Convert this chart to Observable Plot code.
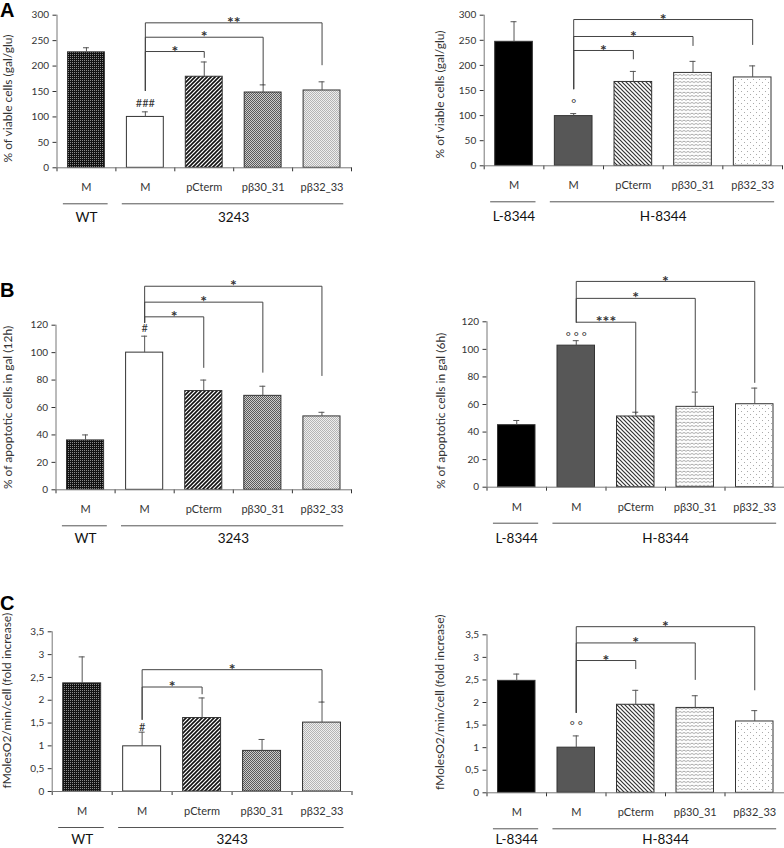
<!DOCTYPE html>
<html><head><meta charset="utf-8">
<script src="https://cdn.jsdelivr.net/npm/d3@7"></script>
<script src="https://cdn.jsdelivr.net/npm/@observablehq/plot@0.6"></script>
<style>
body{margin:0;background:#fff;}
#fig{position:relative;width:784px;height:848px;overflow:hidden;font-family:Lato,sans-serif;}
.panel{position:absolute;}
.letter{position:absolute;left:0;font-family:"Liberation Sans",Arial,sans-serif;font-weight:bold;font-size:20px;line-height:1;color:#000;}
</style></head><body>
<svg width="0" height="0" style="position:absolute">
<defs>
 <pattern id="pat-dark" width="2" height="2" patternUnits="userSpaceOnUse">
   <rect width="2" height="2" fill="#111"/><rect x="0" y="0" width="1" height="1" fill="#8a8a8a"/>
 </pattern>
 <pattern id="pat-slash" width="4" height="4" patternUnits="userSpaceOnUse">
   <rect width="4" height="4" fill="#fff"/>
   <path d="M-1,5 L5,-1 M-1,1 L1,-1 M3,5 L5,3" stroke="#111" stroke-width="1.6"/>
 </pattern>
 <pattern id="pat-mid" width="2" height="2" patternUnits="userSpaceOnUse">
   <rect width="2" height="2" fill="#cccccc"/><rect width="1" height="1" fill="#5a5a5a"/><rect x="1" y="1" width="1" height="1" fill="#5a5a5a"/>
 </pattern>
 <pattern id="pat-light" width="2" height="2" patternUnits="userSpaceOnUse">
   <rect width="2" height="2" fill="#eeeeee"/><rect width="1" height="1" fill="#b4b4b4"/><rect x="1" y="1" width="1" height="1" fill="#b4b4b4"/>
 </pattern>
 <pattern id="pat-back" width="4" height="4" patternUnits="userSpaceOnUse">
   <rect width="4" height="4" fill="#fff"/>
   <path d="M-1,-1 L5,5 M3,-1 L5,1 M-1,3 L1,5" stroke="#333" stroke-width="1.2"/>
 </pattern>
 <pattern id="pat-wave" width="4" height="3.5" patternUnits="userSpaceOnUse">
   <rect width="4" height="3.5" fill="#fff"/>
   <path d="M0,1 L2,2.2 L4,1" stroke="#8a8a8a" stroke-width="0.8" fill="none"/>
 </pattern>
 <pattern id="pat-dots" width="6" height="6" patternUnits="userSpaceOnUse">
   <rect width="6" height="6" fill="#fff"/><rect x="1" y="1" width="1" height="1" fill="#aaa"/><rect x="4" y="4" width="1" height="1" fill="#aaa"/>
 </pattern>
</defs></svg>
<div id="fig">
  <div class="letter" style="top:0px">A</div>
  <div class="letter" style="top:280px">B</div>
  <div class="letter" style="top:593px">C</div>
</div>
<script>
// ---- categories & groups ----
const categories = ["M", "M", "pCterm", "pβ30_31", "pβ32_33"];
const groupsLeft = [{label: "WT", from: 0, to: 0}, {label: "3243", from: 1, to: 4}];
const groupsRight = [{label: "L-8344", from: 0, to: 0}, {label: "H-8344", from: 1, to: 4}];

// ---- series values (mean, error) ----
const viabilityLeft = [227, 100, 179, 148, 152];
const viabilityLeftErr = [9, 10, 29, 15, 17];
const viabilityRight = [247, 99, 167, 185, 176];
const viabilityRightErr = [40, 5, 21, 23, 23];
const apoptosisLeft = [36, 100, 72, 68.5, 53.5];
const apoptosisLeftErr = [4, 12, 8, 7, 3];
const apoptosisRight = [45, 102.7, 51.3, 58.3, 60.2];
const apoptosisRightErr = [3.4, 3.6, 3.1, 10.7, 11.7];
const oxygenLeft = [2.37, 0.99, 1.61, 0.89, 1.51];
const oxygenLeftErr = [0.58, 0.31, 0.44, 0.25, 0.45];
const oxygenRight = [2.48, 1.0, 1.95, 1.88, 1.58];
const oxygenRightErr = [0.15, 0.26, 0.32, 0.27, 0.24];

// ---- tick labels ----
const yTicksViability = [0, 50, 100, 150, 200, 250, 300];
const yTicksApoptosis = [0, 20, 40, 60, 80, 100, 120];
const yTicksOxygen = [0, 0.5, 1, 1.5, 2, 2.5, 3, 3.5];

// ---- significance brackets (from M, index 1) ----
const bracketsAL = [{to: 2, level: 228.6, end: 217, label: "*"}, {to: 3, level: 256.7, end: 163, label: "*"}, {to: 4, level: 285, end: 202.5, label: "**"}];
const bracketsAR = [{to: 2, level: 229.7, end: 213, label: "*"}, {to: 3, level: 257.6, end: 239.6, label: "*"}, {to: 4, level: 291.4, end: 241.6, label: "*"}];
const bracketsBL = [{to: 2, level: 126.1, end: 89.2, label: "*"}, {to: 3, level: 136.8, end: 85.7, label: "*"}, {to: 4, level: 148.4, end: 83.3, label: "*"}];
const bracketsBR = [{to: 2, level: 119.7, end: 53.5, label: "***"}, {to: 3, level: 137, end: 70.2, label: "*"}, {to: 4, level: 149.3, end: 76, label: "*"}];
const bracketsCL = [{to: 2, level: 2.29, end: 2.14, label: "*"}, {to: 4, level: 2.67, end: 1.96, label: "*"}];
const bracketsCR = [{to: 2, level: 2.93, end: 2.75, label: "*"}, {to: 3, level: 3.32, end: 2.51, label: "*"}, {to: 4, level: 3.68, end: 2.28, label: "*"}];

// ---- styles ----
const fillsLeft = ["url(#pat-dark)", "#ffffff", "url(#pat-slash)", "url(#pat-mid)", "url(#pat-light)"];
const fillsRight = ["#000000", "#575757", "url(#pat-back)", "url(#pat-wave)", "url(#pat-dots)"];
const comma = d => String(d).replace(".", ",");

const panels = [
  {left: 0, top: 0, height: 260, mL: 56.5, mR: 41, mT: 14.7, mB: 92.7, values: viabilityLeft, errs: viabilityLeftErr, fills: fillsLeft, groups: groupsLeft,
   yTicks: yTicksViability, yMax: 300, yLabel: "% of viable cells (gal/glu)", titleDx: -49, titleDy: 7, brackets: bracketsAL, base: 152, sig: "###", sigDy: -8, sigSize: 11, groupDy: 50},
  {left: 392, top: 0, height: 260, mL: 91.7, mR: 2, mT: 14.7, mB: 94.7, values: viabilityRight, errs: viabilityRightErr, fills: fillsRight, groups: groupsRight,
   yTicks: yTicksViability, yMax: 300, yLabel: "% of viable cells (gal/glu)", titleDx: -44, titleDy: 4, brackets: bracketsAR, base: 153.4, sig: "°", sigDy: -9, sigSize: 12, groupDy: 51},
  {left: 0, top: 260, height: 300, mL: 55.5, mR: 41, mT: 64.7, mB: 70.7, values: apoptosisLeft, errs: apoptosisLeftErr, fills: fillsLeft, groups: groupsLeft,
   yTicks: yTicksApoptosis, yMax: 120, yLabel: "% of apoptotic cells in gal (12h)", titleDx: -48, titleDy: 0, brackets: bracketsBL, base: 122, sig: "#", sigDy: -8, sigSize: 11, groupDy: 49},
  {left: 392, top: 260, height: 300, mL: 94.5, mR: 0, mT: 61.3, mB: 73.3, values: apoptosisRight, errs: apoptosisRightErr, fills: fillsRight, groups: groupsRight,
   yTicks: yTicksApoptosis, yMax: 120, yLabel: "% of apoptotic cells in gal (6h)", titleDx: -45.5, titleDy: 6.5, brackets: bracketsBR, base: 119.7, sig: "° ° °", sigDy: -3.5, sigSize: 12, groupDy: 51},
  {left: 0, top: 560, height: 288, mL: 51.7, mR: 40.5, mT: 71.3, mB: 57, values: oxygenLeft, errs: oxygenLeftErr, fills: fillsLeft, groups: groupsLeft,
   yTicks: yTicksOxygen, yMax: 3.5, tickFormat: comma, yLabel: "fMolesO2/min/cell (fold increase)", titleDx: -45, titleDy: -11, brackets: bracketsCL, base: 1.58, sig: "#", sigDy: -5, sigSize: 11, groupDy: 48},
  {left: 392, top: 560, height: 288, mL: 94.5, mR: 0, mT: 74.3, mB: 55.7, values: oxygenRight, errs: oxygenRightErr, fills: fillsRight, groups: groupsRight,
   yTicks: yTicksOxygen, yMax: 3.5, tickFormat: comma, yLabel: "fMolesO2/min/cell (fold increase)", titleDx: -47, titleDy: -11.6, brackets: bracketsCR, base: 1.78, sig: "° °", sigDy: -10, sigSize: 12, groupDy: 46.5}
];

function makePanel(p) {
  const data = categories.map((c, i) => ({i, label: c, value: p.values[i], err: p.errs[i], fill: p.fills[i]}));
  const bracketPts = p.brackets.flatMap((b, k) => [
    {k, x: 1, y: p.base}, {k, x: 1, y: b.level}, {k, x: b.to, y: b.level}, {k, x: b.to, y: b.end}
  ]);
  const bounds = d3.range(-0.5, 5, 1);
  return Plot.plot({
    width: 392, height: p.height,
    marginLeft: p.mL, marginRight: p.mR, marginTop: p.mT, marginBottom: p.mB,
    style: {fontFamily: "Lato, sans-serif", fontSize: "10px", color: "#333", background: "transparent", overflow: "visible"},
    x: {domain: [-0.5, 4.5], ticks: bounds, tickFormat: () => "", tickSize: 4, label: null},
    y: {domain: [0, p.yMax], ticks: p.yTicks, tickSize: 4, tickPadding: 4, tickFormat: p.tickFormat, label: null},
    color: {type: "identity"},
    marks: [
      Plot.rect(data, {x1: d => d.i - 0.5, x2: d => d.i + 0.5, y1: 0, y2: "value", fill: "fill", stroke: "#333", strokeWidth: 1, insetLeft: 11, insetRight: 11}),
      Plot.ruleX(data, {x: "i", y1: "value", y2: d => d.value + d.err, stroke: "#555"}),
      Plot.ruleY(data, {y: d => d.value + d.err, x1: d => d.i - 0.05, x2: d => d.i + 0.05, stroke: "#555"}),
      Plot.ruleY([0], {stroke: "#777"}),
      Plot.ruleX([-0.5], {y1: 0, y2: p.yMax, stroke: "#777"}),
      Plot.line(bracketPts, {x: "x", y: "y", z: "k", stroke: "#444", strokeWidth: 1, strokeLinejoin: "miter"}),
      Plot.text(p.brackets, {x: d => (1 + d.to) / 2, y: "level", text: "label", dy: 0, fontSize: 16, fontWeight: "bold", fill: "#333"}),
      Plot.text([data[1]], {x: "i", y: d => d.value + d.err, text: () => p.sig, dy: p.sigDy, fontSize: p.sigSize, fill: "#333"}),
      Plot.text(data, {x: "i", y: 0, text: "label", dy: 20, fontSize: 11, fill: "#333"}),
      Plot.link(p.groups, {x1: d => d.from - 0.4, x2: d => d.to + 0.36, y1: 0, y2: 0, dy: 36, stroke: "#555"}),
      Plot.text(p.groups, {x: d => (d.from + d.to) / 2, y: 0, text: "label", dy: p.groupDy, fontSize: 13.5, fill: "#111"}),
      Plot.text([p.yLabel], {frameAnchor: "left", textAnchor: "middle", rotate: -90, dx: p.titleDx, dy: p.titleDy, text: d => d, fontSize: 12, fill: "#333"})
    ]
  });
}

const fig = document.getElementById("fig");
for (const p of panels) {
  const svg = makePanel(p);
  svg.classList.add("panel");
  svg.style.left = p.left + "px";
  svg.style.top = p.top + "px";
  fig.appendChild(svg);
}
</script>
</body></html>
